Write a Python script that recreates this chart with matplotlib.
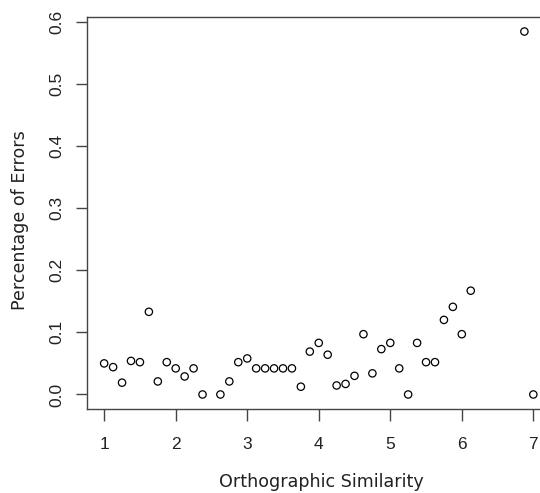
import matplotlib
matplotlib.use('Agg')
import matplotlib.pyplot as plt
import numpy as np

# orthographic similarity (x) vs proportion of errors (y)
similarity = [1.0, 1.125, 1.25, 1.375, 1.5, 1.625, 1.75, 1.875,
              2.0, 2.125, 2.25, 2.375, 2.625, 2.75, 2.875,
              3.0, 3.125, 3.25, 3.375, 3.5, 3.625, 3.75, 3.875,
              4.0, 4.125, 4.25, 4.375, 4.5, 4.625, 4.75, 4.875,
              5.0, 5.125, 5.25, 5.375, 5.5, 5.625, 5.75, 5.875,
              6.0, 6.125, 6.875, 7.0]
errors = [0.050, 0.044, 0.019, 0.054, 0.052, 0.133, 0.021, 0.052,
          0.042, 0.029, 0.042, 0.0, 0.0, 0.021, 0.052,
          0.058, 0.042, 0.042, 0.042, 0.042, 0.042, 0.0125, 0.069,
          0.083, 0.064, 0.0145, 0.017, 0.030, 0.097, 0.034, 0.073,
          0.083, 0.042, 0.0, 0.083, 0.052, 0.052, 0.120, 0.141,
          0.097, 0.167, 0.584, 0.0]

x_ticks = [1, 2, 3, 4, 5, 6, 7]
y_ticks = [0.0, 0.1, 0.2, 0.3, 0.4, 0.5, 0.6]

W, H = 540, 493
fig = plt.figure(figsize=(W / 100, H / 100), dpi=100)
# plot region in pixels: left 87, right 550 (cropped), top 17, bottom 409
ax = fig.add_axes([87 / W, (H - 409) / H, (550.5 - 87) / W, (409 - 17) / H])

ax.scatter(similarity, errors, s=28, facecolors='none', edgecolors='black', linewidths=0.9)

ax.set_xlim(0.76, 7.24)
ax.set_ylim(-0.02336, 0.60736)

axis_col = '#444444'
for sp in ax.spines.values():
    sp.set_color(axis_col)
    sp.set_linewidth(1.0)

tick_font = dict(family='Liberation Sans', size=12.5, color='#222222')
ax.set_xticks(x_ticks)
ax.set_xticklabels([str(v) for v in x_ticks], **tick_font)
ax.set_yticks(y_ticks)
ax.set_yticklabels([f'{v:.1f}' for v in y_ticks], rotation=90, va='center', **tick_font)
ax.tick_params(axis='x', length=8.5, width=1.0, color=axis_col, pad=12)
ax.tick_params(axis='y', length=8, width=1.0, color=axis_col, pad=8)

label_font = dict(family='DejaVu Sans', size=12.6, color='#222222')
fig.text(321 / W, 1 - 482 / H, 'Orthographic Similarity', ha='center', va='center', **label_font)
fig.text(20 / W, 1 - 220 / H, 'Percentage of Errors', ha='center', va='center', rotation=90, **label_font)

fig.savefig('out.png', dpi=100)
